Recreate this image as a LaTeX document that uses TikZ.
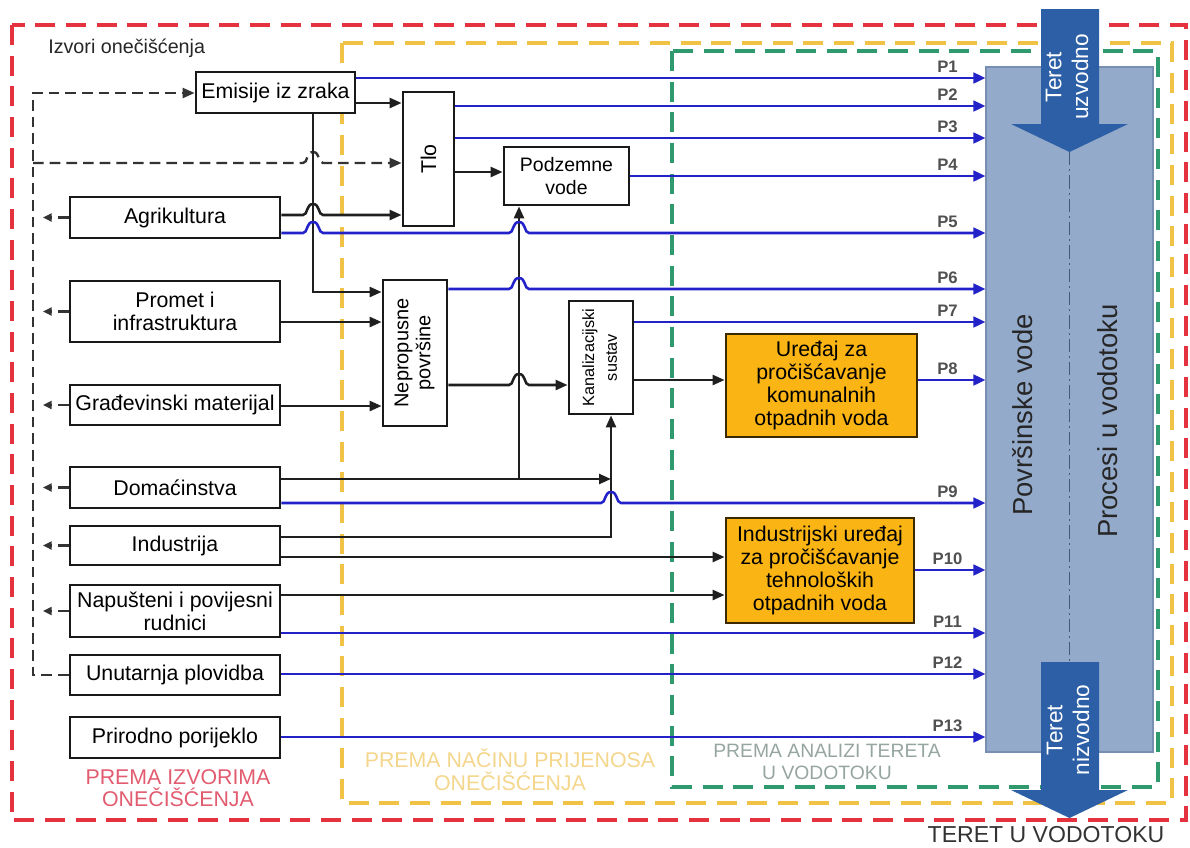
\documentclass[tikz,border=0pt]{standalone}
\usepackage{fontspec}
\setmainfont{Liberation Sans}
\usetikzlibrary{arrows.meta}
\definecolor{cred}{RGB}{229,50,63}
\definecolor{cyel}{RGB}{240,195,70}
\definecolor{cgrn}{RGB}{46,154,110}
\definecolor{csurf}{RGB}{148,170,203}
\definecolor{csurfb}{RGB}{120,142,178}
\definecolor{carrow}{RGB}{44,95,166}
\definecolor{lblue}{RGB}{34,34,200}
\definecolor{corange}{RGB}{250,180,20}
\definecolor{corangeb}{RGB}{60,40,0}
\definecolor{tred}{RGB}{226,92,112}
\definecolor{tyel}{RGB}{244,214,140}
\definecolor{tgray}{RGB}{150,165,160}
\definecolor{plabgray}{RGB}{80,80,80}
\definecolor{cdashdot}{RGB}{70,90,120}
\begin{document}
\begin{tikzpicture}[x=0.75pt,y=-0.75pt,
  box/.style={draw=black!90,line width=2.1pt,fill=white,inner sep=0pt,align=center,
    font=\fontsize{16}{17.25}\selectfont},
  obox/.style={box,fill=corange,draw=corangeb},
  blk/.style={draw=black!88,line width=1.9pt},
  tip/.style={-{Triangle[length=9pt,width=7.5pt]}},
  bl/.style={draw=lblue,line width=1.9pt,-{Triangle[length=9pt,width=8pt]}},
  dsh/.style={draw=black!80,line width=1.8pt,dash pattern=on 8pt off 4.5pt},
  plab/.style={font=\fontsize{12.5}{12.5}\selectfont\bfseries,text=plabgray,above=3pt,xshift=-28.5pt,inner sep=0pt},
  frame/.style={line width=2.6pt,dash pattern=on 15pt off 8pt},
  hopover/.style args={#1/#2}{insert path={-- (#1-10,#2) .. controls (#1-5,#2) and (#1-7,#2-11) .. (#1,#2-11) .. controls (#1+7,#2-11) and (#1+5,#2) .. (#1+10,#2)}}
]
\useasboundingbox (0,0) rectangle (1190,847);

% frames
\draw[frame,draw=cred] (12,25) rectangle (1186,820);
\draw[frame,draw=cyel] (342,43) rectangle (1172,803);
\draw[frame,draw=cgrn] (672,51) rectangle (1158,787);

% surface water block
\node[draw=csurfb,fill=csurf,line width=0.8pt,minimum width=125.25pt,minimum height=513.75pt,inner sep=0pt] (surf) at (1069.5,409.5) {};
\node[rotate=90,font=\fontsize{20.6}{22}\selectfont,text=black!85] (povv) at (1023,415) {Površinske vode};
\node[rotate=90,font=\fontsize{20.6}{22}\selectfont,text=black!85] (proc) at (1108,421) {Procesi u vodotoku};
\draw[cdashdot,line width=1.4pt,dash pattern=on 10pt off 3pt on 1.5pt off 3pt] (1069.5,152) -- (1069.5,662);

% big arrows
\fill[carrow] (1041,9) -- (1099,9) -- (1099,124) -- (1128,124) -- (1069.5,152) -- (1011,124) -- (1041,124) -- cycle;
\node[rotate=90,align=center,text=white,font=\fontsize{17}{20}\selectfont] (tuz) at (1067,77) {Teret\\uzvodno};
\fill[carrow] (1041,662) -- (1099,662) -- (1099,790) -- (1128,790) -- (1069.5,818) -- (1011,790) -- (1041,790) -- cycle;
\node[rotate=90,align=center,text=white,font=\fontsize{17}{20}\selectfont] (tniz) at (1068,730) {Teret\\nizvodno};
\node[font=\fontsize{17.3}{18}\selectfont,text=black!80] (tvod) at (1046,835) {TERET U VODOTOKU};

% texts
\node[anchor=west,font=\fontsize{14.8}{16}\selectfont,text=black!85,inner sep=0pt] (izv) at (48,48) {Izvori onečišćenja};
\node[align=center,font=\fontsize{16}{16.5}\selectfont,text=tred] (pizv) at (178,788) {PREMA IZVORIMA\\ONEČIŠĆENJA};
\node[align=center,font=\fontsize{16}{17}\selectfont,text=tyel] (pnac) at (510,770) {PREMA NAČINU PRIJENOSA\\ONEČIŠĆENJA};
\node[align=center,font=\fontsize{14.5}{16.5}\selectfont,text=tgray] (pana) at (827,762) {PREMA ANALIZI TERETA\\U VODOTOKU};

% boxes
\node[box,minimum width=119.25pt,minimum height=30.75pt] (emis) at (275.5,92.5) {Emisije iz zraka};
\node[box,minimum width=38.25pt,minimum height=100.5pt] (tlo) at (428.5,159) {\rotatebox{90}{Tlo}};
\node[box,minimum width=93.75pt,minimum height=43.5pt,font=\fontsize{14.6}{17.25}\selectfont] (podz) at (566.5,176) {Podzemne\\vode};
\node[box,minimum width=157.5pt,minimum height=30.75pt] (agri) at (175,217.5) {Agrikultura};
\node[box,minimum width=157.5pt,minimum height=45.75pt] (prom) at (175,311.5) {Promet i\\infrastruktura};
\node[box,minimum width=157.5pt,minimum height=30pt] (grad) at (175,405) {Građevinski materijal};
\node[box,minimum width=157.5pt,minimum height=30.75pt] (doma) at (175,487.5) {Domaćinstva};
\node[box,minimum width=157.5pt,minimum height=29.25pt] (indu) at (175,545.5) {Industrija};
\node[box,minimum width=157.5pt,minimum height=39pt] (napu) at (175,611) {Napušteni i povijesni\\rudnici};
\node[box,minimum width=157.5pt,minimum height=30pt] (unut) at (175,675) {Unutarnja plovidba};
\node[box,minimum width=157.5pt,minimum height=30.75pt] (prir) at (175,737.5) {Prirodno porijeklo};
\node[box,minimum width=48pt,minimum height=109.5pt,font=\fontsize{15}{16.5}\selectfont] (nepr) at (415,353) {\rotatebox{90}{\begin{tabular}{@{}c@{}}Nepropusne\\površine\end{tabular}}};
\node[box,minimum width=48pt,minimum height=84.75pt,font=\fontsize{12.2}{17}\selectfont] (kana) at (601,357.5) {\rotatebox{90}{\begin{tabular}{@{}c@{}}Kanalizacijski\\sustav\end{tabular}}};
\node[obox,minimum width=143.25pt,minimum height=77.25pt] (ured) at (821.5,385.5) {Uređaj za\\pročišćavanje\\komunalnih\\otpadnih voda};
\node[obox,minimum width=141pt,minimum height=78.75pt] (indur) at (820,570.5) {Industrijski uređaj\\za pročišćavanje\\tehnoloških\\otpadnih voda};

% helper coordinates
\coordinate (dtop) at (33,93);
\coordinate (dmid) at (33,163);
\coordinate (dbot) at (33,675);
\coordinate (dj) at (519,479);
\coordinate (kj) at (611,479);

% dashed feedback lines
\draw[dsh,tip] (unut.west) -- (dbot) -- (dtop) -- (emis.west |- dtop);
\draw[dsh,tip] (dmid) [hopover=313/163] -- (tlo.west |- dmid);
\foreach \n in {agri,prom,grad,doma,indu,napu}
  \draw[dsh,-{Triangle[length=6.5pt,width=6pt]}] (\n.west) -- ([xshift=7.5pt]\n.west -| dtop);

% black connectors
\draw[blk,tip] (emis.east |- 0,103) -- (tlo.west |- 0,103);
\draw[blk,tip] (emis.south -| 313,0) |- (nepr.west |- 0,292);
\draw[blk,tip] (agri.east |- 0,215) [hopover=313/215] -- (tlo.west |- 0,215);
\draw[blk,tip] (tlo.east |- 0,172) -- (podz.west |- 0,172);
\draw[blk,tip] (prom.east |- 0,322) -- (nepr.west |- 0,322);
\draw[blk,tip] (grad.east |- 0,406) -- (nepr.west |- 0,406);
\draw[blk,tip] (nepr.east |- 0,385) [hopover=519/385] -- (kana.west |- 0,385);
\draw[blk,tip] (kana.east |- 0,380) -- (ured.west |- 0,380);
\draw[blk,tip] (doma.east |- dj) -- (kj);
\draw[blk,tip] (dj) -- (podz.south -| dj);
\draw[blk,tip] (indu.east |- 0,537) -| (kana.south -| kj);
\draw[blk,tip] (indu.east |- 0,557) -- (indur.west |- 0,557);
\draw[blk,tip] (napu.east |- 0,595) -- (indur.west |- 0,595);

% blue connectors P1..P13
\draw[bl] (emis.east |- 0,78) -- (surf.west |- 0,78) node[plab] {P1};
\draw[bl] (tlo.east |- 0,106) -- (surf.west |- 0,106) node[plab] {P2};
\draw[bl] (tlo.east |- 0,138) -- (surf.west |- 0,138) node[plab] {P3};
\draw[bl] (podz.east |- 0,176) -- (surf.west |- 0,176) node[plab] {P4};
\draw[bl] (agri.east |- 0,233) [hopover=313/233] [hopover=519/233] -- (surf.west |- 0,233) node[plab] {P5};
\draw[bl] (nepr.east |- 0,289) [hopover=519/289] -- (surf.west |- 0,289) node[plab] {P6};
\draw[bl] (kana.east |- 0,322) -- (surf.west |- 0,322) node[plab] {P7};
\draw[bl] (ured.east |- 0,380) -- (surf.west |- 0,380) node[plab] {P8};
\draw[bl] (doma.east |- 0,503) [hopover=611/503] -- (surf.west |- 0,503) node[plab] {P9};
\draw[bl] (indur.east |- 0,570) -- (surf.west |- 0,570) node[plab] {P10};
\draw[bl] (napu.east |- 0,633) -- (surf.west |- 0,633) node[plab] {P11};
\draw[bl] (unut.east |- 0,674) -- (surf.west |- 0,674) node[plab] {P12};
\draw[bl] (prir.east |- 0,737) -- (surf.west |- 0,737) node[plab] {P13};
\end{tikzpicture}
\end{document}
